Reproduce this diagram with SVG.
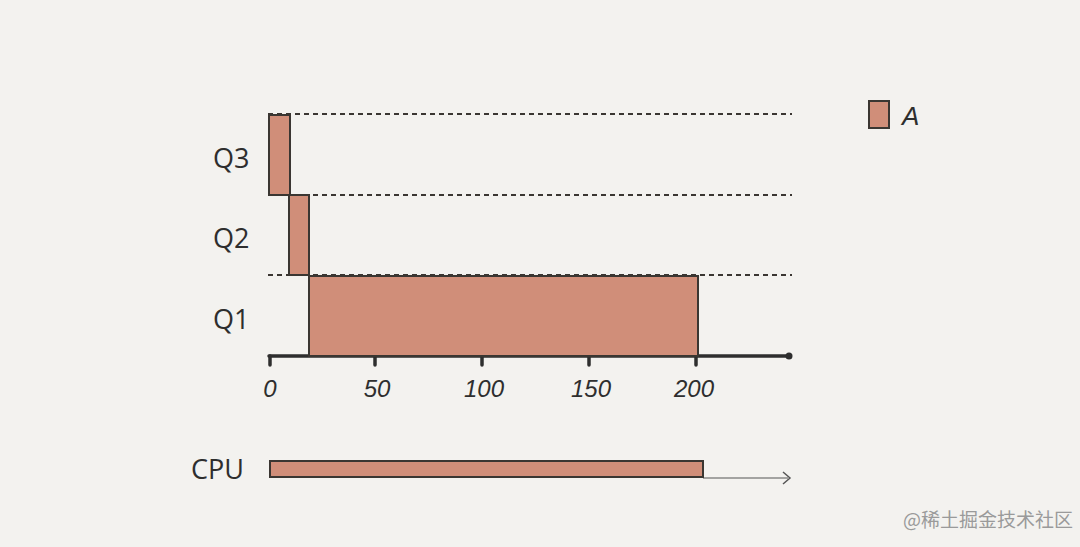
<svg xmlns="http://www.w3.org/2000/svg" width="1080" height="547" viewBox="0 0 1080 547">
<style>
.bar{fill:#d08e79;stroke:#3a3632;stroke-width:2}
.dash{stroke:#3a3632;stroke-width:2;stroke-dasharray:5 4;fill:none}
.lbl{font-family:"Open Sans","Liberation Sans",sans-serif;font-size:27px;fill:#2e2e2e}
.num{font-family:"Liberation Sans",sans-serif;font-style:italic;font-size:24px;fill:#2e2e2e;text-anchor:middle}
.axis{stroke:#2e2e2e;stroke-width:3.5;fill:none;stroke-linecap:round}
</style>
<rect width="1080" height="547" fill="#f3f2ef"/>
<g id="connectors">
<line class="dash" x1="268" y1="114" x2="792" y2="114"/>
<line class="dash" x1="268" y1="195" x2="792" y2="195"/>
<line class="dash" x1="268" y1="275" x2="792" y2="275"/>
<line class="axis" x1="269" y1="356" x2="789" y2="356"/>
<circle cx="789" cy="356" r="3.5" fill="#2e2e2e"/>
<g class="axis">
<line x1="270" y1="356" x2="270" y2="365"/>
<line x1="375" y1="356" x2="375" y2="365"/>
<line x1="482" y1="356" x2="482" y2="365"/>
<line x1="589" y1="356" x2="589" y2="365"/>
<line x1="696" y1="356" x2="696" y2="365"/>
</g>
<line x1="703" y1="478" x2="788" y2="478" stroke="#555" stroke-width="1.2"/>
<polyline points="783,472 790,478 783,484" fill="none" stroke="#555" stroke-width="1.5"/>
</g>
<g id="Q3">
<rect class="bar" x="269" y="115" width="21" height="80"/>
<text class="lbl" x="213" y="168">Q3</text>
</g>
<g id="Q2">
<rect class="bar" x="289" y="195" width="20" height="80"/>
<text class="lbl" x="213" y="248">Q2</text>
</g>
<g id="Q1">
<rect class="bar" x="309" y="276" width="389" height="80"/>
<text class="lbl" x="213" y="329">Q1</text>
</g>
<g id="ticks">
<text class="num" x="270" y="397">0</text>
<text class="num" x="377" y="397">50</text>
<text class="num" x="484" y="397">100</text>
<text class="num" x="591" y="397">150</text>
<text class="num" x="694" y="397">200</text>
</g>
<g id="CPU">
<text class="lbl" x="191" y="479" font-size="25">CPU</text>
<rect class="bar" x="270" y="461" width="433" height="16"/>
</g>
<g id="legend">
<rect class="bar" x="869" y="101" width="20" height="27"/>
<text x="902" y="125" font-family="Liberation Sans,sans-serif" font-style="italic" font-size="26" fill="#2e2e2e">A</text>
</g>
<g id="watermark" fill="#9a9a9a" font-family="Noto Sans CJK SC,sans-serif">
<text x="903" y="527" font-size="19">@稀土掘金技术社区</text>
</g>
</svg>
